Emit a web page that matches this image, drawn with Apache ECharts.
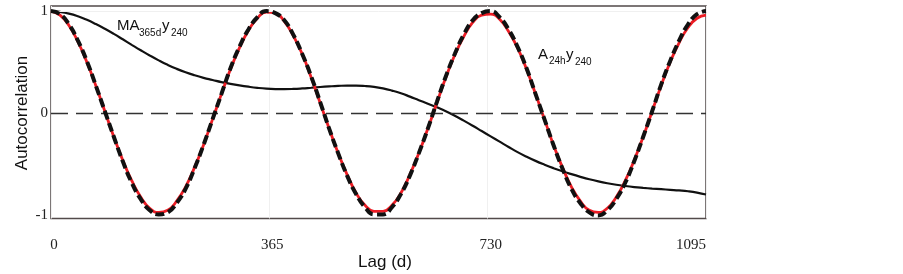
<!DOCTYPE html>
<html><head><meta charset="utf-8">
<script src="https://cdn.jsdelivr.net/npm/echarts@6/dist/echarts.min.js"></script>
<style>html,body{margin:0;padding:0;background:#fff}#c{width:903px;height:274px}</style>
</head><body><div id="c"></div>
<script>
// Lag in days
const lags = [0,15,30,45,60,75,90,105,120,135,150,165,180,195,210,225,240,255,270,285,
  300,315,330,345,360,375,390,405,420,435,450,465,480,495,510,525,540,555,570,585,
  600,615,630,645,660,675,690,705,720,735,750,765,780,795,810,825,840,855,870,885,
  900,915,930,945,960,975,990,1005,1020,1035,1050,1065,1080,1095];
// A24h y240 (red solid)
const acfA24h = [1.00,0.96,0.86,0.70,0.50,0.27,0.02,-0.23,-0.46,-0.66,-0.82,-0.93,-0.97,-0.95,-0.86,-0.72,-0.53,-0.31,-0.06,0.19,
  0.43,0.64,0.81,0.93,0.99,0.98,0.90,0.76,0.58,0.35,0.10,-0.15,-0.39,-0.60,-0.78,-0.90,-0.96,-0.96,-0.90,-0.78,
  -0.60,-0.39,-0.15,0.10,0.35,0.57,0.75,0.89,0.96,0.97,0.92,0.80,0.64,0.43,0.19,-0.06,-0.31,-0.53,-0.72,-0.86,
  -0.95,-0.97,-0.93,-0.82,-0.66,-0.46,-0.23,0.02,0.27,0.50,0.69,0.84,0.93,0.96];
// black dashed curve
const acfDashed = [1.00,0.97,0.87,0.71,0.51,0.27,0.02,-0.23,-0.47,-0.68,-0.84,-0.95,-0.99,-0.97,-0.88,-0.74,-0.54,-0.31,-0.06,0.19,
  0.44,0.65,0.82,0.94,1.00,0.98,0.91,0.77,0.58,0.36,0.11,-0.15,-0.39,-0.61,-0.79,-0.92,-0.99,-0.99,-0.92,-0.79,
  -0.61,-0.39,-0.15,0.11,0.36,0.58,0.77,0.91,0.98,1.00,0.94,0.82,0.65,0.44,0.19,-0.06,-0.31,-0.54,-0.74,-0.88,
  -0.97,-1.00,-0.95,-0.84,-0.68,-0.47,-0.23,0.02,0.28,0.51,0.71,0.87,0.97,1.00];
// MA365d y240 (black solid)
const acfMA365 = [1.000,0.992,0.976,0.950,0.915,0.873,0.827,0.777,0.724,0.670,0.617,0.566,0.518,0.474,0.435,0.401,0.372,0.347,0.326,0.305,
  0.288,0.273,0.260,0.249,0.241,0.237,0.236,0.238,0.243,0.250,0.257,0.263,0.268,0.271,0.271,0.267,0.258,0.243,0.222,0.196,
  0.163,0.128,0.094,0.058,0.020,-0.024,-0.072,-0.122,-0.174,-0.226,-0.278,-0.330,-0.380,-0.425,-0.466,-0.503,-0.537,-0.568,-0.596,-0.622,
  -0.646,-0.667,-0.685,-0.700,-0.712,-0.722,-0.730,-0.737,-0.743,-0.749,-0.755,-0.763,-0.776,-0.795];
const xTickStep = 365;
const yTicks = [-1, 0, 1];

const pairs = arr => lags.map((l, i) => [l, arr[i]]);
const chart = echarts.init(document.getElementById('c'), null, {renderer: 'canvas'});
const sans = 'Liberation Sans';
const serif = 'Liberation Serif';
chart.setOption({
  animation: false,
  backgroundColor: '#fff',
  grid: {left: 51, right: 197, top: 6, bottom: 55.5, containLabel: false, outerBoundsMode: 'none',
    show: true, borderColor: '#524a4a', borderWidth: 1.5, backgroundColor: 'transparent'},
  xAxis: {
    type: 'value', min: 0, max: 1095, interval: xTickStep,
    axisLine: {show: false}, axisTick: {show: false},
    splitLine: {show: true, lineStyle: {color: '#f0f0f0', width: 1}},
    axisLabel: {fontFamily: serif, fontSize: 15, color: '#222', margin: 19, padding: [0, 0, 0, 6],
      alignMaxLabel: 'right', formatter: v => String(v)}
  },
  yAxis: {
    type: 'value', min: -1.03, max: 1.05,
    axisLine: {show: false}, axisTick: {show: false}, splitLine: {show: false},
    axisLabel: {customValues: yTicks, fontFamily: serif, fontSize: 15, color: '#222', margin: 3}
  },
  series: [
    {
      name: 'MA365d y240', type: 'line', data: pairs(acfMA365), showSymbol: false, smooth: 0.5,
      lineStyle: {color: '#111', width: 2.2}, z: 3,
      markLine: {
        silent: true, symbol: 'none', label: {show: false},
        data: [
          {yAxis: 1, lineStyle: {color: '#f0f0f0', width: 1, type: 'solid'}},
          {yAxis: 0, lineStyle: {color: '#333', width: 1.3, type: [17, 8]}}
        ]
      }
    },
    {
      name: 'A24h y240', type: 'line', data: pairs(acfA24h), showSymbol: false, smooth: 0.5,
      lineStyle: {color: '#ec1c24', width: 2.8}, z: 4
    },
    {
      name: 'dashed', type: 'line', data: pairs(acfDashed), showSymbol: false, smooth: 0.5,
      lineStyle: {color: '#111', width: 4, type: [9, 4], cap: 'butt'}, z: 5
    }
  ],
  graphic: [
    {type: 'text', x: 385, y: 262, style: {text: 'Lag (d)', font: '17px "Liberation Sans"', fill: '#111', align: 'center', verticalAlign: 'middle'}, z: 10},
    {type: 'text', x: 22, y: 113, rotation: Math.PI / 2, style: {text: 'Autocorrelation', font: '17px "Liberation Sans"', fill: '#111', align: 'center', verticalAlign: 'middle'}, z: 10},
    {type: 'text', left: 117, top: 18, style: {text: 'MA', font: '15px "Liberation Sans"', fill: '#111'}, z: 10},
    {type: 'text', left: 139, top: 28, style: {text: '365d', font: '10px "Liberation Sans"', fill: '#111'}, z: 10},
    {type: 'text', left: 162, top: 18, style: {text: 'y', font: '15px "Liberation Sans"', fill: '#111'}, z: 10},
    {type: 'text', left: 171, top: 28, style: {text: '240', font: '10px "Liberation Sans"', fill: '#111'}, z: 10},
    {type: 'text', left: 538, top: 47, style: {text: 'A', font: '15px "Liberation Sans"', fill: '#111'}, z: 10},
    {type: 'text', left: 549, top: 56, style: {text: '24h', font: '10px "Liberation Sans"', fill: '#111'}, z: 10},
    {type: 'text', left: 566, top: 47, style: {text: 'y', font: '15px "Liberation Sans"', fill: '#111'}, z: 10},
    {type: 'text', left: 575, top: 57, style: {text: '240', font: '10px "Liberation Sans"', fill: '#111'}, z: 10}
  ]
});
</script></body></html>
